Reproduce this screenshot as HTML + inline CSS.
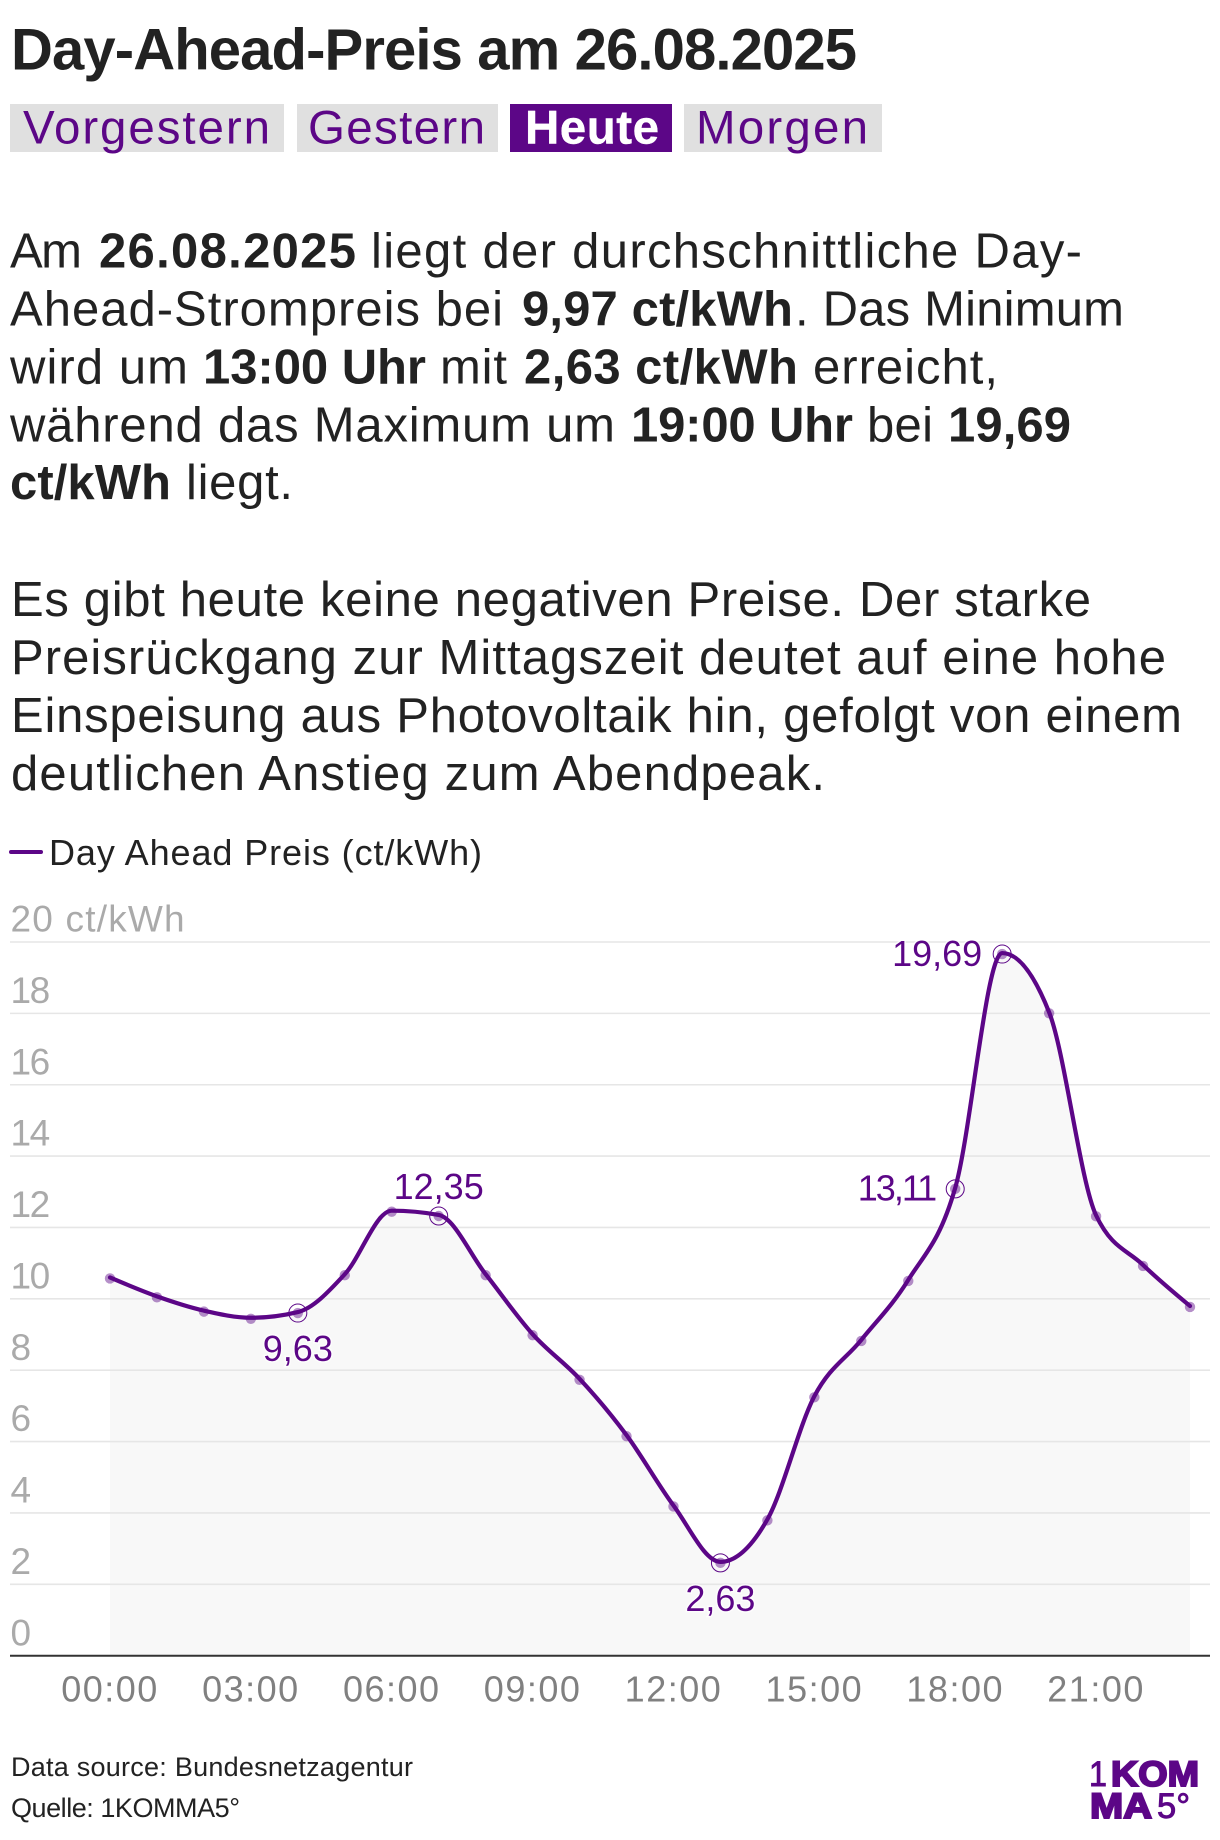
<!DOCTYPE html>
<html lang="de">
<head>
<meta charset="utf-8">
<title>Day-Ahead-Preis am 26.08.2025</title>
<style>
html,body{margin:0;padding:0;background:#fff;width:1220px;height:1840px;overflow:hidden}
svg{display:block}
text{font-family:"Liberation Sans",sans-serif;fill:#222}
.title{font-size:58px;font-weight:700}
.tab{font-size:47.5px;fill:#5c0687}
.tab-on{font-size:47.5px;fill:#fff;font-weight:700;stroke:#fff;stroke-width:.4px}
.body{font-size:49px}
.body .b{font-weight:700}
.legend{font-size:36px}
.foot{font-size:27px}
.ytick{font-size:37px;fill:#aaa}
.xtick{font-size:36px;fill:#808080;text-anchor:middle;letter-spacing:1.5px}
.dlabel{font-size:36px;fill:#5c0687;paint-order:stroke;stroke:#fff;stroke-width:3px;stroke-opacity:.75}
.logo{font-size:35px;fill:#5c0687;stroke:#5c0687;stroke-width:.9px}
.logo-b{font-size:35px;font-weight:700;fill:#5c0687;stroke:#5c0687;stroke-width:2px}
</style>
</head>
<body>
<svg id="page" xmlns="http://www.w3.org/2000/svg" width="1220" height="1840" viewBox="0 0 1220 1840">
  <text class="title" x="11" y="69.5" data-fit="846">Day-Ahead-Preis am 26.08.2025</text>

  <g>
    <g>
      <rect x="10" y="104" width="274" height="48" fill="#e0e0e0"/>
      <text class="tab" x="23" y="143.5" data-fit="247">Vorgestern</text>
    </g>
    <g>
      <rect x="297" y="104" width="201" height="48" fill="#e0e0e0"/>
      <text class="tab" x="308" y="143.5" data-fit="177">Gestern</text>
    </g>
    <g>
      <rect x="510" y="104" width="162" height="48" fill="#5c0687"/>
      <text class="tab-on" x="525" y="143.5" data-fit="134">Heute</text>
    </g>
    <g>
      <rect x="684" y="104" width="198" height="48" fill="#e0e0e0"/>
      <text class="tab" x="696" y="143.5" data-fit="172">Morgen</text>
    </g>
  </g>

  <g>
    <text class="body" y="267.7"><tspan x="10" data-fit="72">Am</tspan> <tspan class="b" x="99" data-fit="257">26.08.2025</tspan> <tspan x="371" data-fit="711">liegt der durchschnittliche Day-</tspan></text>
    <text class="body" y="325.7"><tspan x="10" data-fit="493">Ahead-Strompreis bei</tspan> <tspan class="b" x="522" data-fit="271">9,97 ct/kWh</tspan><tspan x="795" data-fit="329">. Das Minimum</tspan></text>
    <text class="body" y="383.5"><tspan x="10" data-fit="178">wird um</tspan> <tspan class="b" x="203" data-fit="223">13:00 Uhr</tspan> <tspan x="440" data-fit="67">mit</tspan> <tspan class="b" x="524" data-fit="274">2,63 ct/kWh</tspan> <tspan x="813" data-fit="185">erreicht,</tspan></text>
    <text class="body" y="441.4"><tspan x="10" data-fit="605">während das Maximum um</tspan> <tspan class="b" x="631" data-fit="222">19:00 Uhr</tspan> <tspan x="867" data-fit="66">bei</tspan> <tspan class="b" x="948" data-fit="123">19,69</tspan></text>
    <text class="body" y="499.2"><tspan class="b" x="10" data-fit="161">ct/kWh</tspan> <tspan x="186" data-fit="107">liegt.</tspan></text>
  </g>
  <g>
    <text class="body" x="11" y="616" data-fit="1080">Es gibt heute keine negativen Preise. Der starke</text>
    <text class="body" x="11" y="674" data-fit="1155">Preisrückgang zur Mittagszeit deutet auf eine hohe</text>
    <text class="body" x="11" y="732" data-fit="1171">Einspeisung aus Photovoltaik hin, gefolgt von einem</text>
    <text class="body" x="11" y="790" data-fit="814">deutlichen Anstieg zum Abendpeak.</text>
  </g>

  <g>
    <line x1="11" y1="852" x2="41" y2="852" stroke="#5c0687" stroke-width="4" stroke-linecap="round"/>
    <text class="legend" x="49" y="865" data-fit="433">Day Ahead Preis (ct/kWh)</text>
  </g>

  <g id="chart"></g>

  <text class="foot" x="11" y="1776" data-fit="402">Data source: Bundesnetzagentur</text>
  <text class="foot" x="11" y="1817" data-fit="229">Quelle: 1KOMMA5°</text>

  <g>
    <text class="logo" x="1089" y="1786" textLength="18" lengthAdjust="spacingAndGlyphs">1</text>
    <text class="logo-b" x="1111" y="1786" textLength="88" lengthAdjust="spacingAndGlyphs">KOM</text>
    <text class="logo-b" x="1090" y="1818" textLength="62" lengthAdjust="spacingAndGlyphs">MA</text>
    <text class="logo" x="1157" y="1818" textLength="33" lengthAdjust="spacingAndGlyphs">5°</text>
  </g>
</svg>
<script>
const hours = ["00:00","01:00","02:00","03:00","04:00","05:00","06:00","07:00","08:00","09:00","10:00","11:00","12:00","13:00","14:00","15:00","16:00","17:00","18:00","19:00","20:00","21:00","22:00","23:00"];
const prices = [10.6,10.07,9.67,9.47,9.63,10.69,12.47,12.35,10.69,9.01,7.76,6.18,4.21,2.63,3.82,7.27,8.85,10.53,13.11,19.69,18.03,12.34,10.95,9.8];
const yTickValues = [0,2,4,6,8,10,12,14,16,18,20];
const xTickLabels = ["00:00","03:00","06:00","09:00","12:00","15:00","18:00","21:00"];
const highlightHours = ["04:00","07:00","13:00","18:00","19:00"];
const highlightPlacement = ["below","above","below","left","left"];

const NS = "http://www.w3.org/2000/svg";
const chart = document.getElementById("chart");
function xScale(i){ return 110 + i * (1080 / 23); }
function yScale(v){ return 1655.7 - v * (713.7 / 20); }
function mk(tag, attrs, parent){
  const el = document.createElementNS(NS, tag);
  for (const k in attrs) el.setAttribute(k, attrs[k]);
  (parent || chart).appendChild(el);
  return el;
}
function sign(x){ return x < 0 ? -1 : 1; }
function monotonePath(px, py){
  const n = px.length, t = new Array(n);
  for (let i = 1; i < n - 1; i++){
    const h0 = px[i] - px[i-1], h1 = px[i+1] - px[i];
    const s0 = (py[i] - py[i-1]) / h0, s1 = (py[i+1] - py[i]) / h1;
    const p = (s0 * h1 + s1 * h0) / (h0 + h1);
    t[i] = (sign(s0) + sign(s1)) * Math.min(Math.abs(s0), Math.abs(s1), 0.5 * Math.abs(p)) || 0;
  }
  t[0] = (3 * (py[1] - py[0]) / (px[1] - px[0]) - t[1]) / 2;
  t[n-1] = (3 * (py[n-1] - py[n-2]) / (px[n-1] - px[n-2]) - t[n-2]) / 2;
  let d = "M" + px[0].toFixed(2) + "," + py[0].toFixed(2);
  for (let i = 0; i < n - 1; i++){
    const dx = (px[i+1] - px[i]) / 3;
    d += "C" + (px[i] + dx).toFixed(2) + "," + (py[i] + dx * t[i]).toFixed(2) + "," +
         (px[i+1] - dx).toFixed(2) + "," + (py[i+1] - dx * t[i+1]).toFixed(2) + "," +
         px[i+1].toFixed(2) + "," + py[i+1].toFixed(2);
  }
  return d;
}

const px = prices.map((v, i) => xScale(i));
const py = prices.map(v => yScale(v));
const curve = monotonePath(px, py);

// area under the line
const area = mk("path", {d: curve + "L" + px[px.length-1] + "," + yScale(0) + "L" + px[0] + "," + yScale(0) + "Z", fill: "#f8f8f8"});



// gridlines and y tick labels
yTickValues.forEach(function(v){
  if (v > 0) {
    const g = mk("line", {x1: 10, x2: 1210, y1: yScale(v), y2: yScale(v), stroke: "#e6e6e6", "stroke-width": 1.6});
    
    
  }
  const isTop = v === yTickValues[yTickValues.length - 1];
  const t = mk("text", {x: 10.5, y: yScale(v) - 10.4, class: "ytick"});
  
  
  t.textContent = isTop ? v + " ct/kWh" : String(v);
  t.style.letterSpacing = isTop ? "1.2px" : "-1.5px";
});

// x axis
const axis = mk("line", {x1: 10, x2: 1210, y1: yScale(0), y2: yScale(0), stroke: "#333", "stroke-width": 2});


xTickLabels.forEach(function(lbl){
  const t = mk("text", {x: xScale(hours.indexOf(lbl)), y: 1701.7, class: "xtick"});
  
  
  t.textContent = lbl;
});

// data points
prices.forEach(function(v, i){
  const d = mk("circle", {cx: xScale(i), cy: yScale(v) + 1, r: 5.2, fill: "#5c0687", "fill-opacity": 0.45});
  
  
});

// highlight rings
highlightHours.forEach(function(h){
  const i = hours.indexOf(h);
  const r = mk("circle", {cx: xScale(i), cy: yScale(prices[i]) + 1, r: 9, fill: "none", stroke: "#5c0687", "stroke-width": 1});
  
  
});

// line
const line = mk("path", {d: curve, fill: "none", stroke: "#5c0687", "stroke-width": 4.2, "stroke-linejoin": "round", "stroke-linecap": "round"});



// value labels
highlightHours.forEach(function(h, n){
  const i = hours.indexOf(h);
  const place = highlightPlacement[n];
  const cx = xScale(i), cy = yScale(prices[i]);
  const t = mk("text", {class: "dlabel"});
  
  
  t.textContent = prices[i].toFixed(2).replace(".", ",");
  if (t.textContent.indexOf("11") >= 0) t.style.letterSpacing = "-2px";
  if (place === "below"){
    t.setAttribute("x", cx); t.setAttribute("y", cy + 49); t.setAttribute("text-anchor", "middle");
  } else if (place === "above"){
    t.setAttribute("x", cx); t.setAttribute("y", cy - 16); t.setAttribute("text-anchor", "middle");
  } else {
    t.setAttribute("x", cx - 20); t.setAttribute("y", cy + 12.7); t.setAttribute("text-anchor", "end");
  }
});

// fit substitute-font text to the measured widths
document.querySelectorAll("[data-fit]").forEach(function(t){
  const target = parseFloat(t.getAttribute("data-fit"));
  const n = t.textContent.length;
  const w = t.getComputedTextLength();
  t.style.letterSpacing = (n > 1 ? (target - w) / (n - 1) : 0).toFixed(3) + "px";
});
</script>
</body>
</html>
